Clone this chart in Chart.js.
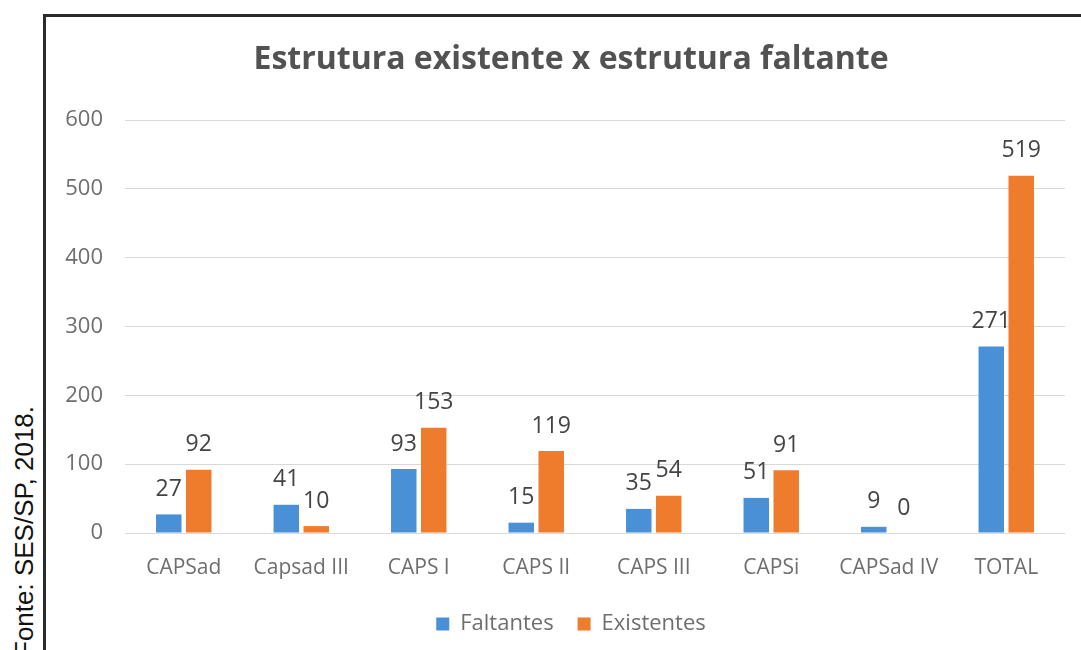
<!DOCTYPE html>
<html>
<head>
<meta charset="utf-8">
<script src="https://cdn.jsdelivr.net/npm/chart.js@4.4.1/dist/chart.umd.min.js"></script>
<style>
  html, body { margin: 0; padding: 0; width: 1081px; height: 650px; overflow: hidden; background: #fff; }
  #frame {
    position: absolute; left: 43px; top: 14px; width: 1100px; height: 700px;
    border-left: 3px solid #2b2b2b; border-top: 3px solid #2b2b2b;
  }
  #wrap { position: absolute; left: 46px; top: 17px; }
  #source {
    position: absolute; left: 0; top: 0; white-space: nowrap;
    font: 26px/26px "Liberation Sans", Arial, sans-serif; color: #111;
    transform-origin: 0 0; transform: translate(11px, 657px) rotate(-90deg);
  }
</style>
</head>
<body>
<div id="frame"></div>
<div id="source">Fonte: SES/SP, 2018.</div>
<div id="wrap"><canvas id="chart" width="1050" height="628"></canvas></div>
<script>
  // values
  const categories = ["CAPSad", "Capsad III", "CAPS I", "CAPS II", "CAPS III", "CAPSi", "CAPSad IV", "TOTAL"];
  const faltantes = [27, 41, 93, 15, 35, 51, 9, 271];
  const existentes = [92, 10, 153, 119, 54, 91, 0, 519];
  const yTicks = [0, 100, 200, 300, 400, 500, 600];

  const BLUE = "#4a90d6";
  const ORANGE = "#ef7b2c";

  Chart.defaults.font.family = "'Open Sans', sans-serif";

  // value labels above each bar
  const barLabels = {
    id: "barLabels",
    afterDatasetsDraw(chart) {
      const { ctx } = chart;
      ctx.save();
      ctx.font = "23px 'Open Sans', sans-serif";
      ctx.fillStyle = "#444444";
      ctx.textAlign = "center";
      ctx.textBaseline = "middle";
      chart.data.datasets.forEach((ds, i) => {
        chart.getDatasetMeta(i).data.forEach((bar, j) => {
          ctx.fillText(String(ds.data[j]), bar.x, bar.y - 25);
        });
      });
      ctx.restore();
    },
  };

  new Chart(document.getElementById("chart").getContext("2d"), {
    type: "bar",
    data: {
      labels: categories,
      datasets: [
        {
          label: "Faltantes",
          data: faltantes,
          backgroundColor: BLUE,
          categoryPercentage: 0.51,
          barPercentage: 0.85,
        },
        {
          label: "Existentes",
          data: existentes,
          backgroundColor: ORANGE,
          categoryPercentage: 0.51,
          barPercentage: 0.85,
        },
      ],
    },
    options: {
      responsive: false,
      animation: false,
      devicePixelRatio: 1,
      layout: { padding: 0 },
      plugins: {
        title: {
          display: true,
          text: "Estrutura existente x estrutura faltante",
          color: "#525252",
          font: { size: 32, weight: "bold" },
          padding: { top: 24, bottom: 40.6 },
        },
        legend: {
          position: "bottom",
          labels: {
            color: "#6e6e6e",
            font: { size: 22 },
            boxWidth: 13,
            boxHeight: 13,
            padding: 24,
          },
        },
        tooltip: { enabled: false },
      },
      scales: {
        x: {
          grid: { display: false },
          border: { display: false },
          ticks: { color: "#6e6e6e", font: { size: 21 }, padding: 14, maxRotation: 0 },
          afterFit: (s) => { s.height = 56; },
        },
        y: {
          min: 0,
          max: 600,
          afterBuildTicks: (s) => { s.ticks = yTicks.map((v) => ({ value: v })); },
          grid: { color: "#d9d9d9", lineWidth: 1, drawTicks: false },
          border: { display: false },
          ticks: { color: "#6e6e6e", font: { size: 22 }, padding: 22 },
          afterFit: (s) => { s.width = 79; },
        },
        // empty right-hand axis, only keeps the white margin so the title and legend stay centred on the frame
        yRight: {
          position: "right",
          grid: { display: false },
          border: { display: false },
          ticks: { display: false },
          afterFit: (s) => { s.width = 31; },
        },
      },
    },
    plugins: [barLabels],
  });
</script>
</body>
</html>
